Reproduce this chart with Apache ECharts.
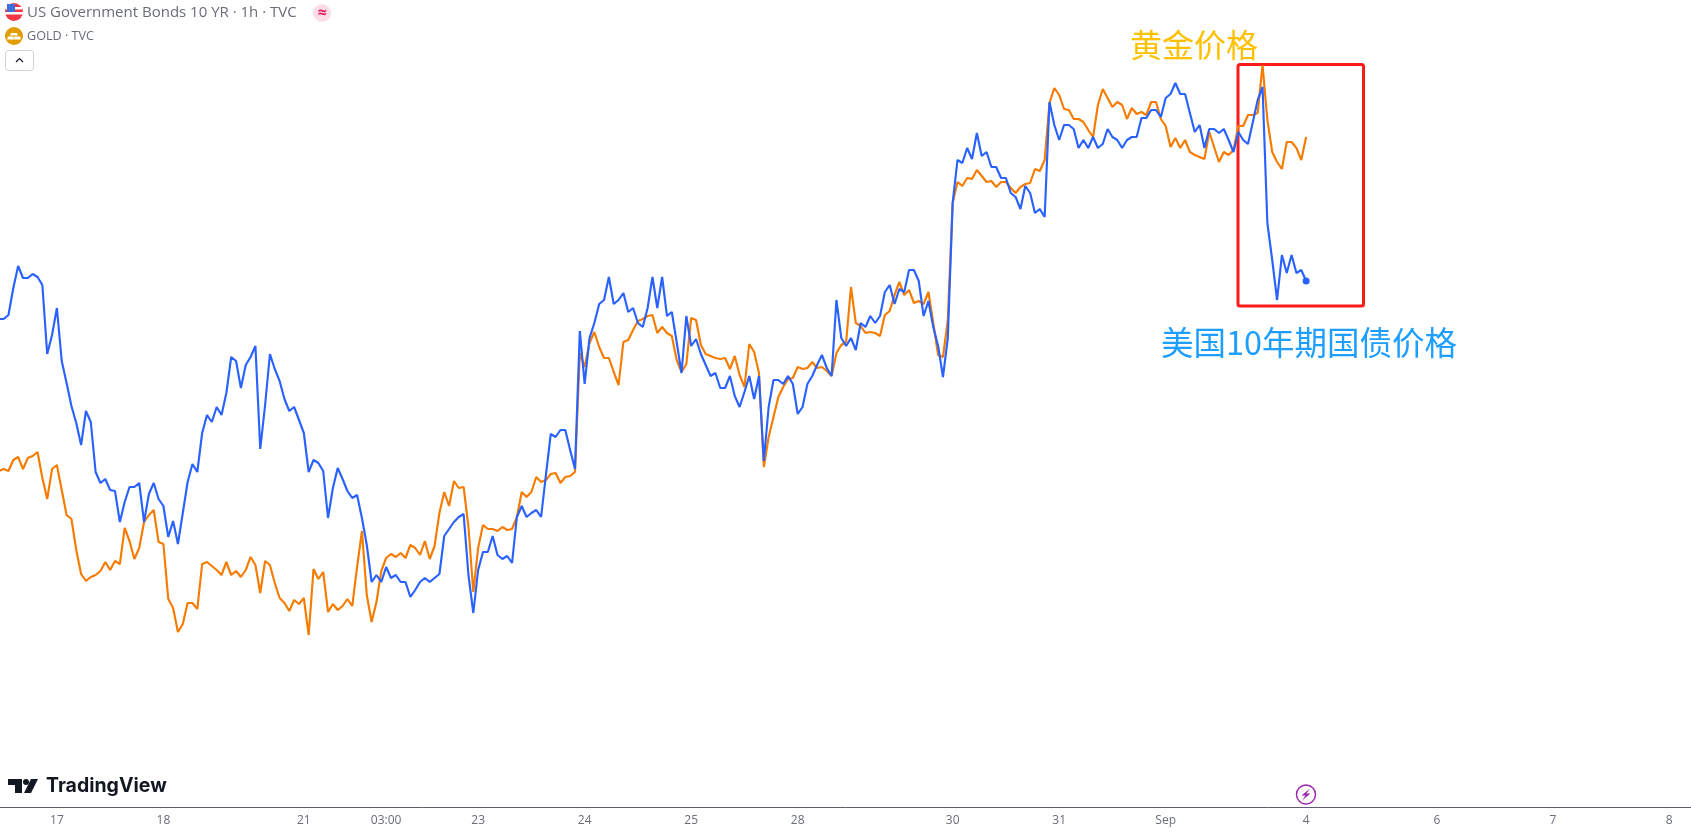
<!DOCTYPE html>
<html>
<head>
<meta charset="utf-8">
<style>html,body{margin:0;padding:0;background:#fff}#c{width:1691px;height:835px}</style>
<script src="https://cdn.jsdelivr.net/npm/echarts@6/dist/echarts.min.js"></script>
</head>
<body>
<div id="c"></div>
<script>
// Relative price level of each series per hourly bar (no price scale is shown in the source).
const bondValues = [488,488,492,519,541,529,529,533,530,522,453,472,499,446,424,401,384,362,396,385,
335,324,328,317,316,285,305,320,320,324,285,313,324,308,301,270,286,263,294,325,
343,335,374,392,385,400,392,414,450,446,419,442,450,461,358,402,453,438,426,408,
396,400,387,374,335,347,344,336,289,319,339,328,316,309,312,289,262,225,232,225,
240,229,232,225,225,210,217,225,229,225,229,233,271,278,285,290,293,232,194,237,
255,255,271,252,248,251,244,290,301,290,294,297,290,332,373,370,377,377,357,338,
476,423,469,484,503,507,530,503,507,514,495,499,484,480,499,530,499,530,491,495,
465,434,491,461,468,453,442,431,434,419,419,431,411,400,415,431,408,431,346,400,
427,427,423,431,423,393,400,423,431,442,452,439,431,507,469,461,469,457,484,480,
491,484,491,515,522,503,518,515,537,537,526,491,506,480,461,430,469,604,647,644,
659,648,674,651,655,640,640,629,629,614,610,598,621,614,594,598,590,705,682,667,
682,682,678,659,667,659,670,659,663,678,670,667,659,667,670,670,689,689,697,697,
690,709,713,724,713,713,694,675,682,659,678,678,674,678,667,655,675,667,663,685,
707,720,584,547,507,552,534,552,534,537,526];
const goldValues = [336,338,336,347,350,338,349,351,355,329,308,338,342,317,292,288,257,233,226,230,
232,236,245,237,246,243,279,266,248,259,285,292,297,265,263,208,199,175,183,204,
204,198,243,245,241,237,232,245,232,236,230,237,250,242,214,246,242,224,209,204,
196,207,203,209,172,238,228,235,195,203,197,201,208,201,240,276,212,185,205,236,
249,253,250,254,249,262,259,252,266,248,261,294,315,301,326,319,320,280,215,259,
282,278,278,276,280,277,278,290,315,310,315,330,325,327,333,334,324,330,331,335,
454,440,464,475,460,449,449,435,422,465,467,477,486,488,491,492,474,480,474,471,
447,435,443,489,487,462,453,451,449,448,449,438,451,432,420,463,455,434,340,370,
390,410,420,428,429,440,438,439,445,439,440,436,431,454,462,465,520,484,481,474,
475,474,471,492,496,512,525,512,517,504,506,503,515,484,452,450,487,604,625,621,
629,628,637,631,625,626,620,625,625,619,614,620,623,624,638,636,647,704,719,712,
698,697,688,688,685,677,670,702,718,709,700,705,702,688,699,693,695,692,705,705,
688,681,660,669,659,667,655,652,650,648,675,660,645,655,652,657,681,681,692,692,
694,742,687,655,645,638,665,665,659,647,670];
const tickBars = [12,34,63,80,99,121,143,165,197,219,241,270,297,321,345];
const tickLabels = ['17','18','21','03:00','23','24','25','28','30','31','Sep','4','6','7','8'];
const bondTitle = 'US Government Bonds 10 YR · 1h · TVC';
const goldTitle = 'GOLD · TVC';
const goldNote = '黄金价格';
const bondNote = '美国10年期国债价格';

const toPoints = arr => arr.map((v, i) => [i, v]);
const tickText = Object.fromEntries(tickBars.map((b, i) => [b, tickLabels[i]]));
const uiFont = '"Open Sans","Liberation Sans",sans-serif';
const chart = echarts.init(document.getElementById('c'), null, {renderer: 'canvas'});

chart.setOption({
  animation: false,
  backgroundColor: '#ffffff',
  grid: {left: 0, right: 0, top: 0, bottom: 28},
  xAxis: {
    type: 'value', min: 0.25, max: 349.49,
    splitLine: {show: false},
    axisLine: {show: true, onZero: false, lineStyle: {color: '#5d606b', width: 1}},
    axisTick: {show: false},
    axisLabel: {
      customValues: tickBars, margin: 8,
      color: '#6a6d78', fontSize: 12, fontFamily: uiFont,
      formatter: v => tickText[v] || '',
      showMinLabel: true, showMaxLabel: true
    }
  },
  yAxis: {type: 'value', min: 0, max: 807, show: false, splitLine: {show: false}},
  series: [
    {name: 'GOLD', type: 'line', data: toPoints(goldValues), showSymbol: false, clip: true,
     lineStyle: {color: '#f57c00', width: 2.15}, itemStyle: {color: '#f57c00'}},
    {name: 'US10Y', type: 'line', data: toPoints(bondValues), showSymbol: false, clip: true,
     lineStyle: {color: '#2962ff', width: 2.15}, itemStyle: {color: '#2962ff'}},
    {name: 'last', type: 'scatter', symbolSize: 7, itemStyle: {color: '#2962ff', opacity: 1},
     data: [[bondValues.length - 1, bondValues[bondValues.length - 1]]]}
  ],
  graphic: [
    // header icons and text
    {type: 'circle', shape: {cx: 14, cy: 12, r: 9}, style: {fill: '#f23645'}},
    {type: 'rect', shape: {x: 6, y: 7, width: 16, height: 2.5}, style: {fill: '#fff'}},
    {type: 'rect', shape: {x: 5, y: 12, width: 18, height: 2.5}, style: {fill: '#fff'}},
    {type: 'rect', shape: {x: 7, y: 4, width: 8, height: 8}, style: {fill: '#3d6fd9'}},
    {type: 'text', x: 27, y: 13, style: {text: bondTitle, fontSize: 15, fontFamily: uiFont, fill: '#6a6d78', textVerticalAlign: 'middle'}},
    {type: 'circle', shape: {cx: 322, cy: 13, r: 9}, style: {fill: '#fbdde6'}},
    {type: 'text', x: 322, y: 13, style: {text: '≈', fontSize: 16, fontWeight: 'bold', fontFamily: uiFont, fill: '#e91e63', textAlign: 'center', textVerticalAlign: 'middle'}},
    {type: 'circle', shape: {cx: 14, cy: 36, r: 9}, style: {fill: '#e09c00'}},
    {type: 'polygon', shape: {points: [[11, 33], [17, 33], [18, 35.5], [10, 35.5]]}, style: {fill: '#fff'}},
    {type: 'polygon', shape: {points: [[8, 36.5], [13.5, 36.5], [14, 39.5], [7, 39.5]]}, style: {fill: '#fff'}},
    {type: 'polygon', shape: {points: [[14.5, 36.5], [20, 36.5], [21, 39.5], [14, 39.5]]}, style: {fill: '#fff'}},
    {type: 'text', x: 27, y: 36.5, style: {text: goldTitle, fontSize: 12.6, fontFamily: uiFont, fill: '#6a6d78', textVerticalAlign: 'middle'}},
    {type: 'rect', shape: {x: 5.5, y: 50.5, width: 28, height: 20, r: 3}, style: {fill: '#fff', stroke: '#d1d4dc', lineWidth: 1}},
    {type: 'polyline', shape: {points: [[16, 62], [19.5, 58.5], [23, 62]]}, style: {fill: 'none', stroke: '#131722', lineWidth: 1.2}},
    // annotations
    {type: 'rect', shape: {x: 1238, y: 64.5, width: 125.5, height: 241.5, r: 2}, style: {fill: 'none', stroke: '#ff1a1a', lineWidth: 3}},
    {type: 'text', x: 1130, y: 45, style: {text: goldNote, fontSize: 32, fontFamily: '"Noto Sans CJK SC"', fill: '#ffc000', textVerticalAlign: 'middle'}},
    {type: 'text', x: 1161, y: 343, style: {text: bondNote, fontSize: 32.5, fontFamily: '"Noto Sans CJK SC"', fill: '#1e9eff', textVerticalAlign: 'middle'}},
    // watermark
    {type: 'polygon', shape: {points: [[8, 779], [22, 779], [22, 793], [15, 793], [15, 785], [8, 785]]}, style: {fill: '#131722'}},
    {type: 'circle', shape: {cx: 26, cy: 782, r: 3}, style: {fill: '#131722'}},
    {type: 'polygon', shape: {points: [[31, 779], [38, 779], [31, 793], [24, 793]]}, style: {fill: '#131722'}},
    {type: 'text', x: 46, y: 786, style: {text: 'TradingView', fontSize: 19.5, fontWeight: 'bold', fontFamily: 'Inter,sans-serif', fill: '#131722', textVerticalAlign: 'middle'}},
    // event marker
    {type: 'circle', shape: {cx: 1306, cy: 794.5, r: 9.5}, style: {fill: '#fff', stroke: '#9c27b0', lineWidth: 1.5}},
    {type: 'polygon', shape: {points: [[1310, 788.5], [1301.5, 795.5], [1305.5, 795.5], [1302, 800.5], [1310.5, 793.5], [1306.5, 793.5]]}, style: {fill: '#9c27b0'}}
  ]
});
</script>
</body>
</html>
